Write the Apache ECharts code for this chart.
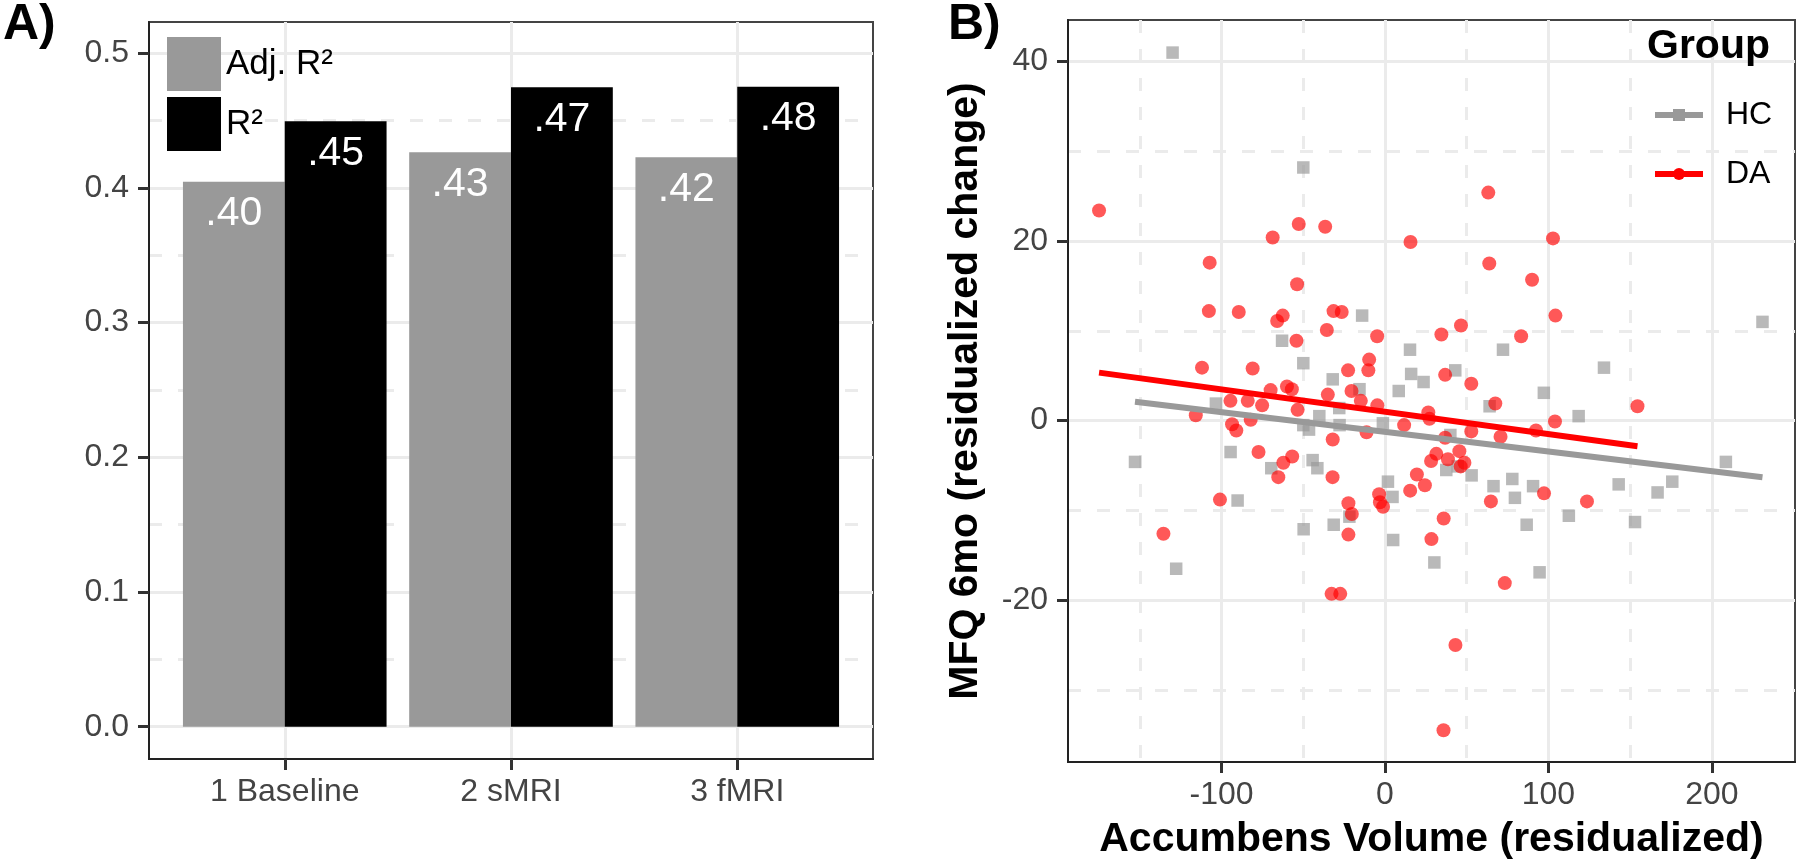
<!DOCTYPE html>
<html>
<head>
<meta charset="utf-8">
<script src="https://cdn.jsdelivr.net/npm/echarts@6/dist/echarts.min.js"></script>
<style>
html, body { margin: 0; padding: 0; background: #fff; }
#main { width: 1800px; height: 865px; }
</style>
</head>
<body>
<div id="main"></div>
<script>
// A) model fit
var models = ['1 Baseline', '2 sMRI', '3 fMRI'];
var adjR2 = [0.4045, 0.4265, 0.4228];
var r2 = [0.4495, 0.4748, 0.4752];
var adjLabels = ['.40', '.43', '.42'];
var r2Labels = ['.45', '.47', '.48'];
var fitTicks = [0, 0.1, 0.2, 0.3, 0.4, 0.5];
var fitMinor = [0.05, 0.15, 0.25, 0.35, 0.45];

// B) accumbens volume vs MFQ change
var hcPoints = [
    [-130, 41.0], [-50, 28.2], [-14, 11.7], [231, 11.0], [-63, 8.9], [15.3, 7.9], [72.2, 7.9],
    [-50, 6.4], [134, 5.9], [16, 5.2], [43, 5.6], [-32, 4.6], [23.6, 4.3], [-15.6, 3.5],
    [8.4, 3.3], [97.2, 3.1], [64, 1.6], [118.5, 0.5], [-103.5, 1.9], [-40.2, 0.5], [-28, 1.4],
    [-50, -0.5], [-46.5, -1.0], [-27.8, -0.5], [-1.3, -0.3], [40, -1.6], [-153, -4.6],
    [-94.5, -3.5], [-69.6, -5.3], [-44.3, -4.4], [-41.4, -5.3], [-90.2, -8.9], [-127.8, -16.5],
    [-49.8, -12.1], [-31.4, -11.6], [-21.8, -10.7], [1.8, -6.8], [4.6, -8.5], [5, -13.3],
    [30.2, -15.8], [37.5, -5.5], [44.5, -5.1], [53, -6.1], [66.4, -7.3], [77.9, -6.5],
    [79.5, -8.6], [90.6, -7.3], [86.7, -11.6], [94.6, -16.9], [112.5, -10.6], [143, -7.1],
    [153, -11.3], [166.8, -8.0], [175.8, -6.8], [208.6, -4.6]
];
var daPoints = [
    [-175, 23.4], [63.2, 25.4], [-52.8, 21.9], [-36.6, 21.6], [-68.75, 20.4], [15.6, 19.9],
    [102.8, 20.3], [-107.3, 17.6], [63.8, 17.5], [90, 15.7], [-53.8, 15.2], [-107.8, 12.2],
    [-89.5, 12.1], [-66, 11.1], [-62.6, 11.7], [-31.5, 12.2], [-26.5, 12.1], [104.3, 11.7],
    [46.5, 10.6], [-35.6, 10.1], [34.5, 9.6], [-4.8, 9.4], [83.3, 9.4], [-54.2, 8.9],
    [-9.7, 6.8], [-10.2, 5.6], [-112, 5.9], [-81, 5.8], [-22.6, 5.6], [36.8, 5.1], [52.8, 4.1],
    [-70, 3.4], [-60, 3.8], [-57, 3.5], [-20.5, 3.3], [-35, 2.9], [-94.6, 2.2], [-84, 2.2],
    [-75.2, 1.7], [-14.8, 2.2], [-4.7, 1.7], [-53.5, 1.2], [67.5, 1.9], [154.5, 1.6],
    [26.5, 0.9], [27.2, 0.2], [-115.8, 0.6], [-82.2, 0.1], [104, -0.1], [-93.6, -0.4],
    [-91, -1.1], [-32, -2.1], [-11.3, -1.3], [11.7, -0.5], [52.8, -1.2], [70.7, -1.8],
    [92.4, -1.1], [36.8, -1.9], [-77.4, -3.5], [-56.8, -4.0], [-62.2, -4.7], [-65.3, -6.3],
    [-32.1, -6.3], [28.2, -4.5], [31.4, -3.7], [38.5, -4.3], [45.5, -3.4], [46.3, -5.1],
    [48.6, -4.7], [19.5, -6.0], [24.4, -7.2], [15.4, -7.8], [-3.6, -8.2], [-3.1, -9.1],
    [-1.2, -9.6], [-22.4, -9.2], [-20.3, -10.4], [-22.4, -12.7], [-101, -8.8], [-135.6, -12.6],
    [64.8, -9.0], [97.3, -8.1], [123.6, -9.0], [35.9, -10.9], [28.4, -13.2], [73.3, -18.1],
    [-32.7, -19.3], [-27.4, -19.3], [43.1, -25.0], [35.8, -34.5]
];
var hcFit = [[-153, 2.1], [231, -6.3]];
var daFit = [[-175, 5.35], [154.5, -2.85]];
var volTicks = [-100, 0, 100, 200];
var volMinor = [-150, -50, 50, 150];
var mfqTicks = [-20, 0, 20, 40];
var mfqMinor = [-30, -10, 10, 30];

var FONT = "'Liberation Sans', Arial, Helvetica, sans-serif";
var majorLine = { color: '#ebebeb', width: 3 };
var minorLine = { color: '#ebebeb', width: 3, type: [13, 16] };
var axisLine = { onZero: false, lineStyle: { color: '#222', width: 2 } };
var tickLine = { color: '#333', width: 3 };
var tickLabel = { color: '#444', fontSize: 32, fontFamily: FONT };

function barItem(offset, labels) {
    return function (params, api) {
        var x = api.value(0);
        var v = api.value(1);
        var p0 = api.coord([x + offset, v]);
        var p1 = api.coord([x + offset + 0.45, 0]);
        return {
            type: 'group',
            children: [{
                type: 'rect',
                shape: { x: p0[0], y: p0[1], width: p1[0] - p0[0], height: p1[1] - p0[1] },
                style: { fill: api.visual('color') }
            }, {
                type: 'text',
                style: {
                    text: labels[params.dataIndex],
                    x: (p0[0] + p1[0]) / 2,
                    y: p0[1] + 32,
                    fill: '#fff',
                    font: '41px ' + FONT,
                    align: 'center',
                    verticalAlign: 'middle'
                }
            }]
        };
    };
}

function minorAxis(grid, min, max, values) {
    return {
        gridIndex: grid, type: 'value', min: min, max: max,
        axisLine: { show: false },
        axisTick: { show: false, customValues: values },
        axisLabel: { show: false, customValues: values },
        splitLine: { show: true, lineStyle: minorLine }
    };
}

var chart = echarts.init(document.getElementById('main'));
chart.setOption({
    animation: false,
    textStyle: { fontFamily: FONT },
    title: [
        { text: 'A)', left: 3, top: 0, padding: 0, textStyle: { fontSize: 50, fontWeight: 'bold', color: '#000' } },
        { text: 'B)', left: 948, top: 0, padding: 0, textStyle: { fontSize: 50, fontWeight: 'bold', color: '#000' } },
        { text: 'Group', left: 1647, top: 26, padding: 0, textStyle: { fontSize: 41, fontWeight: 'bold', color: '#000' } }
    ],
    legend: [{
        data: ['Adj. R²', 'R²'],
        orient: 'vertical',
        left: 167, top: 37,
        padding: 0,
        icon: 'rect',
        itemWidth: 54, itemHeight: 54, itemGap: 6, itemSymbolKeepAspect: false,
        textStyle: { fontSize: 35, color: '#000' }, selectedMode: false
    }, {
        data: ['HC', 'DA'],
        orient: 'vertical',
        left: 1652, top: 99,
        padding: 0,
        itemWidth: 48, itemHeight: 15, itemGap: 27, itemGap: 27,
        lineStyle: { width: 6 },
        textStyle: { fontSize: 32, color: '#000', padding: [0, 0, 0, 18] }, selectedMode: false
    }],
    grid: [
        { left: 149, top: 22, width: 724, height: 737, show: true, borderColor: '#444', borderWidth: 2 },
        { left: 1068, top: 20, width: 727, height: 744, show: true, borderColor: '#444', borderWidth: 2 }
    ],
    xAxis: [{
        gridIndex: 0, type: 'value', min: 0.4, max: 3.6,
        axisLine: axisLine,
        axisTick: { length: 11, lineStyle: tickLine, customValues: [1, 2, 3] },
        axisLabel: Object.assign({ customValues: [1, 2, 3], margin: 17, formatter: function (v) { return models[Math.round(v) - 1]; } }, tickLabel),
        splitLine: { show: true, lineStyle: majorLine }
    }, {
        gridIndex: 1, type: 'value', min: -194, max: 250.9,
        axisLine: axisLine,
        axisTick: { length: 11, lineStyle: tickLine, customValues: volTicks },
        axisLabel: Object.assign({ customValues: volTicks, margin: 17 }, tickLabel),
        splitLine: { show: true, lineStyle: majorLine },
        name: 'Accumbens Volume (residualized)', nameLocation: 'middle', nameGap: 57,
        nameTextStyle: { fontSize: 41, fontWeight: 'bold', color: '#000', fontFamily: FONT }
    }, minorAxis(1, -194, 250.9, volMinor)],
    yAxis: [{
        gridIndex: 0, type: 'value', min: -0.024, max: 0.5232,
        axisLine: axisLine,
        axisTick: { length: 11, lineStyle: tickLine, customValues: fitTicks },
        axisLabel: Object.assign({ customValues: fitTicks, margin: 20, formatter: function (v) { return v.toFixed(1); } }, tickLabel),
        splitLine: { show: true, lineStyle: majorLine }
    }, minorAxis(0, -0.024, 0.5232, fitMinor), {
        gridIndex: 1, type: 'value', min: -38.03, max: 44.63,
        axisLine: axisLine,
        axisTick: { length: 11, lineStyle: tickLine, customValues: mfqTicks },
        axisLabel: Object.assign({ customValues: mfqTicks, margin: 20 }, tickLabel),
        splitLine: { show: true, lineStyle: majorLine },
        name: 'MFQ 6mo (residualized change)', nameLocation: 'middle', nameGap: 82,
        nameTextStyle: { fontSize: 41, fontWeight: 'bold', color: '#000', fontFamily: FONT }
    }, minorAxis(1, -38.03, 44.63, mfqMinor)],
    series: [{
        name: 'Adj. R²', type: 'custom', xAxisIndex: 0, yAxisIndex: 0,
        itemStyle: { color: '#999999' },
        renderItem: barItem(-0.45, adjLabels),
        data: adjR2.map(function (v, i) { return [i + 1, v]; })
    }, {
        name: 'R²', type: 'custom', xAxisIndex: 0, yAxisIndex: 0,
        itemStyle: { color: '#000000' },
        renderItem: barItem(0, r2Labels),
        data: r2.map(function (v, i) { return [i + 1, v]; })
    }, {
        name: 'HC', type: 'line', xAxisIndex: 1, yAxisIndex: 2, z: 5,
        symbol: 'rect', symbolSize: 12, showSymbol: false,
        lineStyle: { color: '#999999', width: 6 }, itemStyle: { color: '#999999' },
        data: hcFit
    }, {
        name: 'DA', type: 'line', xAxisIndex: 1, yAxisIndex: 2, z: 6,
        symbol: 'circle', symbolSize: 13, showSymbol: false,
        lineStyle: { color: '#ff0000', width: 6 }, itemStyle: { color: '#ff0000' },
        data: daFit
    }, {
        name: 'HC points', type: 'scatter', xAxisIndex: 1, yAxisIndex: 2, z: 3,
        symbol: 'rect', symbolSize: 12.5,
        itemStyle: { color: 'rgba(153,153,153,0.85)' },
        data: hcPoints
    }, {
        name: 'DA points', type: 'scatter', xAxisIndex: 1, yAxisIndex: 2, z: 4,
        symbol: 'circle', symbolSize: 14,
        itemStyle: { color: 'rgba(255,0,0,0.82)' },
        data: daPoints
    }]
});
</script>
</body>
</html>
